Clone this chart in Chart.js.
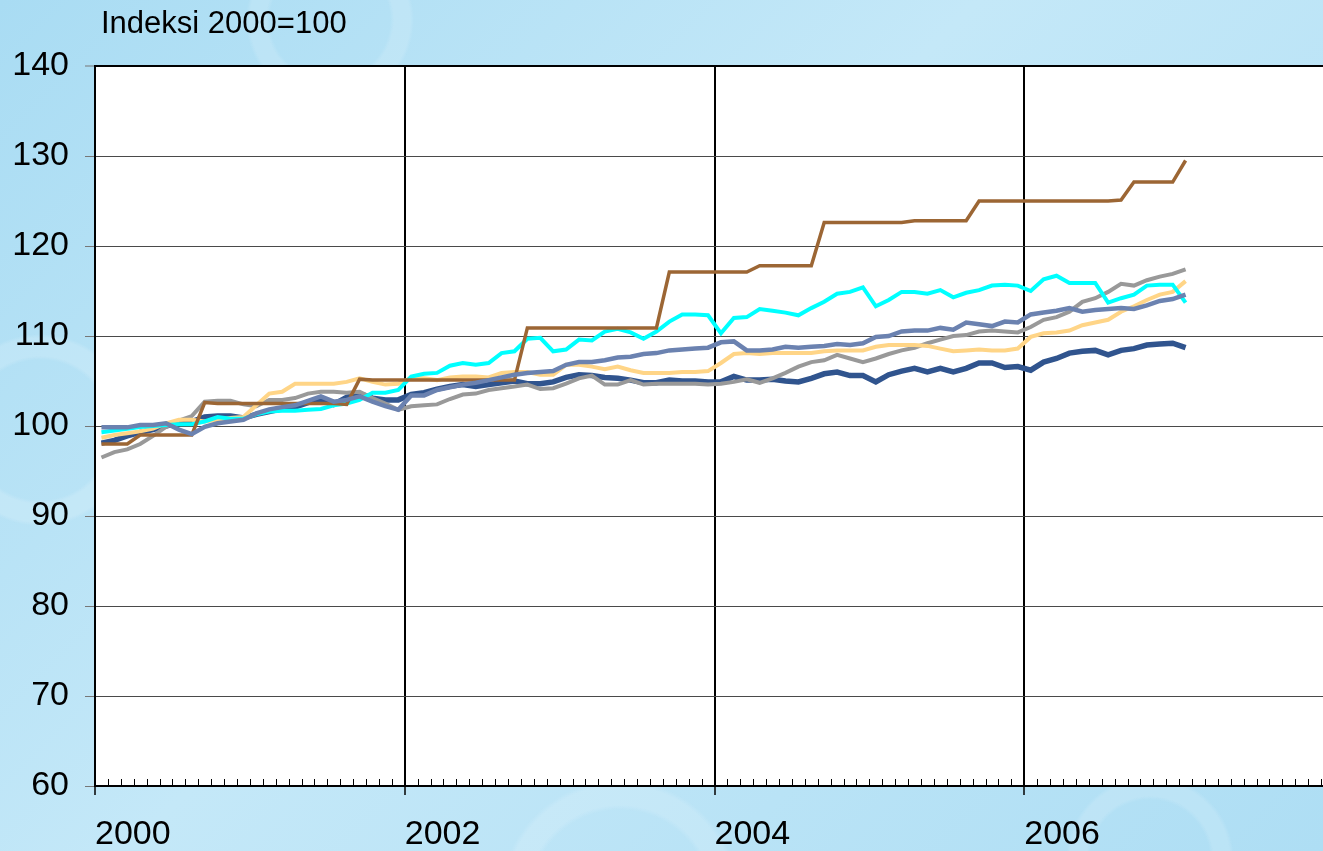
<!DOCTYPE html>
<html><head><meta charset="utf-8">
<script src="https://cdn.jsdelivr.net/npm/chart.js@4.4.1/dist/chart.umd.min.js"></script>
<style>
html,body{margin:0;padding:0;overflow:hidden;width:1323px;height:851px;}
body{
  background-color:#b6e1f5;
  background-image:
    radial-gradient(circle at 40px 430px, rgba(255,255,255,0) 70px, rgba(255,255,255,0.16) 74px, rgba(255,255,255,0.16) 92px, rgba(255,255,255,0) 96px),
    radial-gradient(circle at 330px 20px, rgba(255,255,255,0) 60px, rgba(255,255,255,0.14) 64px, rgba(255,255,255,0.14) 80px, rgba(255,255,255,0) 84px),
    radial-gradient(circle at 620px 900px, rgba(255,255,255,0) 90px, rgba(255,255,255,0.15) 95px, rgba(255,255,255,0.15) 115px, rgba(255,255,255,0) 120px),
    radial-gradient(circle at 1150px 860px, rgba(255,255,255,0) 60px, rgba(255,255,255,0.14) 64px, rgba(255,255,255,0.14) 80px, rgba(255,255,255,0) 84px),
    linear-gradient(135deg, #a9dcf3 0%, #c4e8f8 45%, #aedef4 100%);
}
#wrap{position:absolute;left:0;top:0;width:1353px;height:851px;}
</style></head><body>
<div id="wrap"><canvas id="c" width="1353" height="851"></canvas></div>
<script>
// Monthly index values, Jan 2000 .. Jan 2007 (index 2000 = 100)
const yearLabels = ['2000', '2002', '2004', '2006'];
const axisTitle = 'Indeksi 2000=100';

const brownSeries = [98.0,98.0,98.0,99.0,99.0,99.0,99.0,99.0,102.6,102.5,102.5,102.5,102.5,102.5,102.5,102.5,102.5,102.5,102.5,102.4,
  105.2,105.1,105.1,105.1,105.1,105.1,105.1,105.1,105.1,105.1,105.1,105.1,105.1,110.9,110.9,110.9,110.9,110.9,110.9,110.9,
  110.9,110.9,110.9,110.9,117.1,117.1,117.1,117.1,117.1,117.1,117.1,117.8,117.8,117.8,117.8,117.8,122.6,122.6,122.6,122.6,
  122.6,122.6,122.6,122.8,122.8,122.8,122.8,122.8,125.0,125.0,125.0,125.0,125.0,125.0,125.0,125.0,125.0,125.0,125.0,125.1,
  127.1,127.1,127.1,127.1,129.5];

const cyanSeries = [99.3,99.5,99.7,99.9,100.0,100.1,100.2,100.2,100.5,101.0,100.8,100.8,101.3,101.6,101.7,101.7,101.8,101.9,102.3,102.5,
  102.9,103.7,103.7,104.0,105.5,105.8,105.9,106.7,107.0,106.8,107.0,108.1,108.3,109.7,109.8,108.3,108.5,109.6,109.5,110.5,
  110.8,110.4,109.7,110.5,111.6,112.4,112.4,112.3,110.3,112.0,112.1,113.0,112.8,112.6,112.3,113.1,113.8,114.7,114.9,115.4,
  113.3,114.0,114.9,114.9,114.7,115.1,114.3,114.8,115.1,115.6,115.7,115.6,115.0,116.3,116.7,115.9,115.9,115.9,113.7,114.2,
  114.6,115.6,115.7,115.7,113.7];

const graySeries = [96.5,97.1,97.4,98.0,98.9,99.9,100.6,101.1,102.7,102.8,102.8,102.4,102.2,102.9,102.9,103.1,103.6,103.8,103.8,103.7,
  103.8,103.1,102.5,101.8,102.2,102.3,102.4,103.0,103.5,103.6,104.0,104.2,104.4,104.6,104.1,104.2,104.7,105.3,105.6,104.6,
  104.6,105.1,104.6,104.7,104.7,104.7,104.7,104.6,104.7,104.9,105.2,104.8,105.3,105.9,106.6,107.1,107.3,107.9,107.5,107.1,
  107.5,108.0,108.4,108.7,109.2,109.6,110.0,110.1,110.5,110.6,110.5,110.4,111.0,111.8,112.1,112.7,113.8,114.2,114.9,115.8,
  115.6,116.2,116.6,116.9,117.4];

const peachSeries = [98.7,99.0,99.2,99.4,99.7,100.3,100.7,100.7,100.5,100.7,100.9,101.0,102.3,103.6,103.8,104.7,104.7,104.7,104.7,104.9,
  105.3,104.9,104.6,104.7,105.3,105.3,105.1,105.4,105.5,105.5,105.4,105.9,106.0,106.0,105.7,105.7,106.8,106.8,106.6,106.3,
  106.6,106.2,105.9,105.9,105.9,106.0,106.0,106.1,107.0,108.0,108.1,108.0,108.1,108.1,108.1,108.1,108.3,108.4,108.4,108.4,
  108.8,109.0,109.0,109.0,108.9,108.6,108.3,108.4,108.5,108.4,108.4,108.6,109.9,110.3,110.4,110.6,111.2,111.5,111.8,112.7,
  113.3,114.0,114.6,114.9,116.1];

const slateSeries = [99.85,99.85,99.85,100.1,100.1,100.3,99.6,99.1,99.9,100.3,100.5,100.7,101.4,101.85,102.1,102.3,102.8,103.3,102.7,102.9,
  103.3,102.7,102.2,101.8,103.4,103.4,104.0,104.3,104.6,104.8,105.1,105.4,105.7,105.9,106.0,106.1,106.8,107.1,107.1,107.3,
  107.6,107.7,108.0,108.1,108.4,108.5,108.6,108.7,109.3,109.4,108.4,108.4,108.5,108.8,108.7,108.8,108.9,109.1,109.0,109.2,
  109.9,110.0,110.5,110.6,110.6,110.9,110.7,111.5,111.3,111.1,111.6,111.5,112.4,112.6,112.8,113.1,112.7,112.9,113.0,113.1,
  113.0,113.4,113.9,114.1,114.6];

const navySeries = [98.1,98.4,98.9,99.3,99.6,100.0,100.4,100.5,101.0,101.1,101.1,100.9,101.3,101.6,101.9,102.1,102.6,103.1,102.4,103.2,
  103.6,103.1,102.9,102.9,103.5,103.7,104.1,104.4,104.6,104.4,104.6,104.8,105.0,104.7,104.7,104.9,105.4,105.7,105.6,105.4,
  105.3,105.1,104.8,104.8,105.1,105.0,105.0,104.9,104.9,105.5,105.1,105.1,105.2,105.0,104.9,105.3,105.8,106.0,105.6,105.6,
  104.9,105.7,106.1,106.4,106.0,106.4,106.0,106.4,107.0,107.0,106.5,106.6,106.2,107.1,107.5,108.1,108.3,108.4,107.9,108.4,
  108.6,109.0,109.1,109.2,108.7];

const toPoints = arr => arr.map((v, i) => ({x: i + 0.5, y: v}));
const FONT = '"Liberation Sans", Arial, sans-serif';

const bgPlugin = {
  id: 'bg',
  beforeDraw(chart) {
    const {ctx, chartArea: a} = chart;
    ctx.save();
    ctx.fillStyle = '#ffffff';
    ctx.fillRect(a.left, a.top, a.right - a.left, a.bottom - a.top);
    ctx.restore();
  },
  afterDraw(chart) {
    const {ctx, chartArea: a} = chart;
    const xs = chart.scales.x;
    ctx.save();
    ctx.strokeStyle = '#000';
    ctx.lineWidth = 1;
    ctx.beginPath();
    for (let m = 1; m < 96; m++) {
      const px = Math.round(xs.getPixelForValue(m)) + 0.5;
      ctx.moveTo(px, a.bottom - 7);
      ctx.lineTo(px, a.bottom);
    }
    ctx.stroke();
    ctx.fillStyle = '#000';
    ctx.font = '31px ' + FONT;
    ctx.textAlign = 'left';
    ctx.textBaseline = 'alphabetic';
    ctx.fillText(axisTitle, 101, 33);
    ctx.restore();
  }
};

const ds = (label, data, color, width) => ({
  label, data: toPoints(data), borderColor: color, backgroundColor: color,
  borderWidth: width, pointRadius: 0, tension: 0, fill: false
});

new Chart(document.getElementById('c'), {
  type: 'line',
  data: {
    datasets: [
      ds('slate', slateSeries, '#6b82b0', 4.5),
      ds('brown', brownSeries, '#9c6634', 3.5),
      ds('cyan', cyanSeries, '#00ffff', 4),
      ds('peach', peachSeries, '#ffd587', 4),
      ds('gray', graySeries, '#999999', 4),
      ds('navy', navySeries, '#30548e', 5.5)
    ]
  },
  options: {
    responsive: false,
    animation: false,
    devicePixelRatio: 1,
    layout: {padding: {top: 66, left: 0, right: 0, bottom: 0}},
    plugins: {legend: {display: false}, tooltip: {enabled: false}, title: {display: false}},
    scales: {
      x: {
        type: 'linear', min: 0, max: 96, position: 'bottom',
        afterFit: s => { s.height = 65; },
        ticks: {
          stepSize: 1, autoSkip: false, maxRotation: 0, minRotation: 0, align: 'start',
          padding: 19, color: '#000', font: {family: FONT, size: 34},
          callback: v => (v % 24 === 0 && v < 96) ? yearLabels[v / 24] : ''
        },
        grid: {
          color: c => (c.tick && c.tick.value % 24 === 0 && c.tick.value > 0 && c.tick.value < 96) ? '#000' : 'rgba(0,0,0,0)',
          lineWidth: 2,
          tickLength: 9,
          tickColor: c => (c.tick && c.tick.value % 24 === 0) ? '#000' : 'rgba(0,0,0,0)',
          tickWidth: 1.5
        },
        border: {color: '#000', width: 2}
      },
      y: {
        min: 60, max: 140,
        afterFit: s => { s.width = 95; },
        ticks: {stepSize: 10, padding: 16, color: '#000', font: {family: FONT, size: 34}},
        grid: {
          color: c => (c.tick && c.tick.value === 140) ? '#000' : '#4a4a4a',
          lineWidth: c => (c.tick && c.tick.value === 140) ? 2 : 1,
          tickLength: 10,
          tickColor: '#777',
          tickWidth: 1
        },
        border: {color: '#000', width: 2}
      }
    }
  },
  plugins: [bgPlugin]
});
</script>
</body></html>
